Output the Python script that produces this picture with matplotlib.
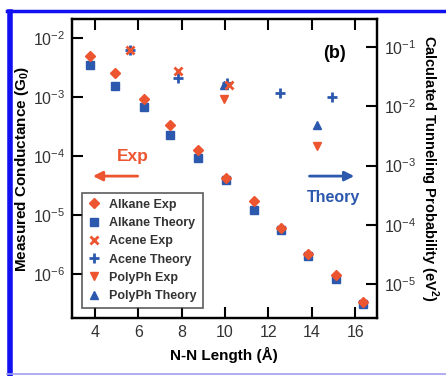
import numpy as np
import matplotlib
matplotlib.use('Agg')
import matplotlib.pyplot as plt
from matplotlib.lines import Line2D

plt.rcParams['font.family'] = ['Liberation Sans', 'DejaVu Sans']
plt.rcParams['mathtext.fontset'] = 'custom'
plt.rcParams['mathtext.rm'] = 'Liberation Sans'
plt.rcParams['mathtext.bf'] = 'Liberation Sans:bold'

RED = '#EC5530'
BLUE = '#2C58AE'

# alkane series (same N-N lengths for exp and theory)
alkane_len = [3.76, 4.91, 6.26, 7.45, 8.75, 10.05, 11.34, 12.57, 13.84, 15.11, 16.38]
alkane_exp = [5.0e-3, 2.55e-3, 9.3e-4, 3.4e-4, 1.28e-4, 4.3e-5, 1.75e-5, 6.0e-6, 2.2e-6, 9.8e-7, 3.4e-7]
alkane_theory = [5.0e-2, 2.24e-2, 9.6e-3, 3.25e-3, 1.33e-3, 5.8e-4, 1.8e-4, 8.3e-5, 2.95e-5, 1.2e-5, 4.6e-6]

# acenes
acene_exp_len = [5.63, 7.83, 10.17]
acene_exp = [6.3e-3, 2.75e-3, 1.6e-3]
acene_theory_len = [5.63, 7.83, 10.1, 12.55, 14.94]
acene_theory = [0.089, 0.030, 0.025, 0.017, 0.0145]

# polyphenyls
polyph_exp_len = [9.94, 14.24]
polyph_exp = [9.3e-4, 1.5e-4]
polyph_theory_len = [9.94, 14.24]
polyph_theory = [2.3e-2, 4.8e-3]

fig = plt.figure(figsize=(4.46, 3.76), dpi=100)
ax = fig.add_axes([0.161, 0.154, 0.684, 0.795])
ax2 = ax.twinx()

ax.set_yscale('log')
ax2.set_yscale('log')
ax.set_xlim(2.94, 17.0)
ax.set_ylim(10 ** -6.746, 10 ** -1.678)
ax2.set_ylim(10 ** -5.574, 10 ** -0.527)

h1, = ax2.plot(alkane_len, alkane_theory, 's', color=BLUE, ms=6, ls='none', label='Alkane Theory')
h0, = ax.plot(alkane_len, alkane_exp, 'D', color=RED, ms=5, ls='none', label='Alkane Exp')
h3, = ax2.plot(acene_theory_len, acene_theory, '+', color=BLUE, ms=7, mew=2, ls='none', label='Acene Theory')
h2, = ax.plot(acene_exp_len, acene_exp, 'x', color=RED, ms=6, mew=2, ls='none', label='Acene Exp')
h5, = ax2.plot(polyph_theory_len, polyph_theory, '^', color=BLUE, ms=6, ls='none', label='PolyPh Theory')
h4, = ax.plot(polyph_exp_len, polyph_exp, 'v', color=RED, ms=6, ls='none', label='PolyPh Exp')
ax.set_zorder(ax2.get_zorder() + 1)
ax.patch.set_visible(False)

ax.set_xticks([4, 6, 8, 10, 12, 14, 16])
ax.set_yticks([1e-6, 1e-5, 1e-4, 1e-3, 1e-2])
ax2.set_yticks([1e-5, 1e-4, 1e-3, 1e-2, 1e-1])
ax.minorticks_off()
ax2.minorticks_off()
ax.tick_params(axis='both', direction='in', length=8, width=1.5, labelsize=11.5,
               top=True, labelcolor='#333333', pad=5)
ax2.tick_params(axis='y', direction='in', length=8, width=1.5, labelsize=11.5,
                labelcolor='#333333', pad=5)
for a in (ax, ax2):
    for s in a.spines.values():
        s.set_linewidth(1.6)

ax.set_xlabel('N-N Length (Å)', fontsize=11, fontweight='bold', labelpad=5)
ax.set_ylabel('Measured Conductance (G$_\\mathbf{0}$)', fontsize=11, fontweight='bold', labelpad=1)
ax2.set_ylabel('Calculated Tunneling Probability (eV$^\\mathbf{2}$)', fontsize=10.5,
               fontweight='bold', rotation=270, va='center')
ax2.yaxis.set_label_coords(1.17, 0.5)

ax.text(0.86, 0.87, '(b)', transform=ax.transAxes, fontsize=13, fontweight='bold', ha='center')
ax.text(0.2, 0.54, 'Exp', transform=ax.transAxes, fontsize=12.5, fontweight='bold',
        color=RED, ha='center', va='center')
ax.annotate('', xy=(0.06, 0.475), xytext=(0.225, 0.475), xycoords='axes fraction',
            arrowprops=dict(arrowstyle='-|>', color=RED, lw=2, mutation_scale=14))
ax.text(0.945, 0.405, 'Theory', transform=ax.transAxes, fontsize=11.5, fontweight='bold',
        color=BLUE, ha='right', va='center')
ax.annotate('', xy=(0.935, 0.475), xytext=(0.77, 0.475), xycoords='axes fraction',
            arrowprops=dict(arrowstyle='-|>', color=BLUE, lw=2, mutation_scale=14))

leg = ax.legend(handles=[h0, h1, h2, h3, h4, h5], loc='lower left',
                bbox_to_anchor=(0.035, 0.035), prop={'weight': 'bold', 'size': 9},
                frameon=True, fancybox=False, edgecolor='#333333', handlelength=1.0,
                handletextpad=0.7, labelspacing=0.5, borderpad=0.45, borderaxespad=0)
leg.get_frame().set_linewidth(1.2)
for t in leg.get_texts():
    t.set_color('#333333')

# blue frame around the figure
fig.add_artist(Line2D([0.0215, 0.0215], [0.005, 0.969], transform=fig.transFigure,
                      color='#1010F0', lw=4))
fig.add_artist(Line2D([0.0165, 1.0], [0.971, 0.971], transform=fig.transFigure,
                      color='#1010F0', lw=2.5))
fig.add_artist(Line2D([0.0165, 1.0], [0.005, 0.005], transform=fig.transFigure,
                      color='#A0A0F0', lw=1.2))

fig.savefig('out.png', dpi=100)
